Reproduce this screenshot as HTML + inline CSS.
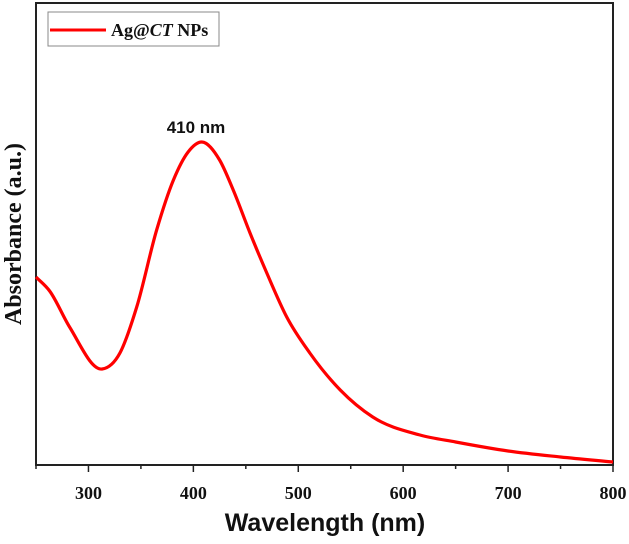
<!DOCTYPE html>
<html><head><meta charset="utf-8"><style>
html,body{margin:0;padding:0;background:#fff;}
svg{display:block;}
</style></head><body>
<svg id="chart" width="629" height="544" xmlns="http://www.w3.org/2000/svg">
<rect x="36" y="3" width="577" height="462" fill="none" stroke="#222" stroke-width="2"/>
<g id="xticks"></g>
<path id="curve" fill="none" stroke="#f00" stroke-width="3.2"/>
<text x="196" y="133" font-family="Liberation Sans, sans-serif" font-weight="bold" font-size="17" text-anchor="middle" fill="#111">410 nm</text>
<text x="325" y="531" font-family="Liberation Sans, sans-serif" font-weight="bold" font-size="25" text-anchor="middle" fill="#111">Wavelength (nm)</text>
<text transform="translate(21,234) rotate(-90)" font-family="Liberation Serif, serif" font-weight="bold" font-size="24" text-anchor="middle" fill="#111">Absorbance (a.u.)</text>
<g>
<rect x="48" y="12" width="171" height="34" fill="#fff" stroke="#888" stroke-width="1"/>
<line x1="50" y1="30" x2="106" y2="30" stroke="#f00" stroke-width="3"/>
<text x="111" y="36" font-family="Liberation Serif, serif" font-weight="bold" font-size="18" fill="#111">Ag@<tspan font-style="italic">CT</tspan> NPs</text>
</g>
</svg>
<script>
const wavelengths=[250,263,282,313,330,346,365,381,395,408,425,438,454,470,489,511,540,571,616,650,700,750,800];
const absorbance=[188,174,138,96,112,158,235,285,313,323,305,275,232,192,148,112,75,48,30,23,14,8,3];
const xTickValues=[300,400,500,600,700,800];
const xMinorValues=[250,350,450,550,650,750];
const X=v=>36+(v-250)*(577/550);
const Y=v=>465-v;
const n=wavelengths.length;
const dx=[],sl=[];
for(let i=0;i<n-1;i++){dx.push(wavelengths[i+1]-wavelengths[i]);sl.push((absorbance[i+1]-absorbance[i])/dx[i]);}
const m=new Array(n);
m[0]=sl[0];m[n-1]=sl[n-2];
for(let i=1;i<n-1;i++){
 m[i]=(sl[i-1]*dx[i]+sl[i]*dx[i-1])/(dx[i-1]+dx[i]);
}
let d='M'+X(wavelengths[0])+','+Y(absorbance[0]);
for(let i=0;i<n-1;i++){
 const h=dx[i];
 const c1x=X(wavelengths[i]+h/3),c1y=Y(absorbance[i]+m[i]*h/3);
 const c2x=X(wavelengths[i+1]-h/3),c2y=Y(absorbance[i+1]-m[i+1]*h/3);
 d+=` C${c1x},${c1y} ${c2x},${c2y} ${X(wavelengths[i+1])},${Y(absorbance[i+1])}`;
}
document.getElementById('curve').setAttribute('d',d);
const g=document.getElementById('xticks');
const ns='http://www.w3.org/2000/svg';
xTickValues.forEach(v=>{
 const l=document.createElementNS(ns,'line');
 l.setAttribute('x1',X(v));l.setAttribute('x2',X(v));l.setAttribute('y1',465);l.setAttribute('y2',472);
 l.setAttribute('stroke','#222');l.setAttribute('stroke-width','1.5');
 
 
 g.appendChild(l);
 const t=document.createElementNS(ns,'text');
 t.setAttribute('x',X(v));t.setAttribute('y',499);t.setAttribute('text-anchor','middle');
 t.setAttribute('font-family','Liberation Serif, serif');t.setAttribute('font-weight','bold');t.setAttribute('font-size','18');
 t.setAttribute('fill','#111');
 t.textContent=v;
 
 
 g.appendChild(t);
});
xMinorValues.forEach(v=>{
 const l=document.createElementNS(ns,'line');
 l.setAttribute('x1',X(v));l.setAttribute('x2',X(v));l.setAttribute('y1',465);l.setAttribute('y2',469);
 l.setAttribute('stroke','#222');l.setAttribute('stroke-width','1.5');
 
 
 g.appendChild(l);
});
</script>
</body></html>
